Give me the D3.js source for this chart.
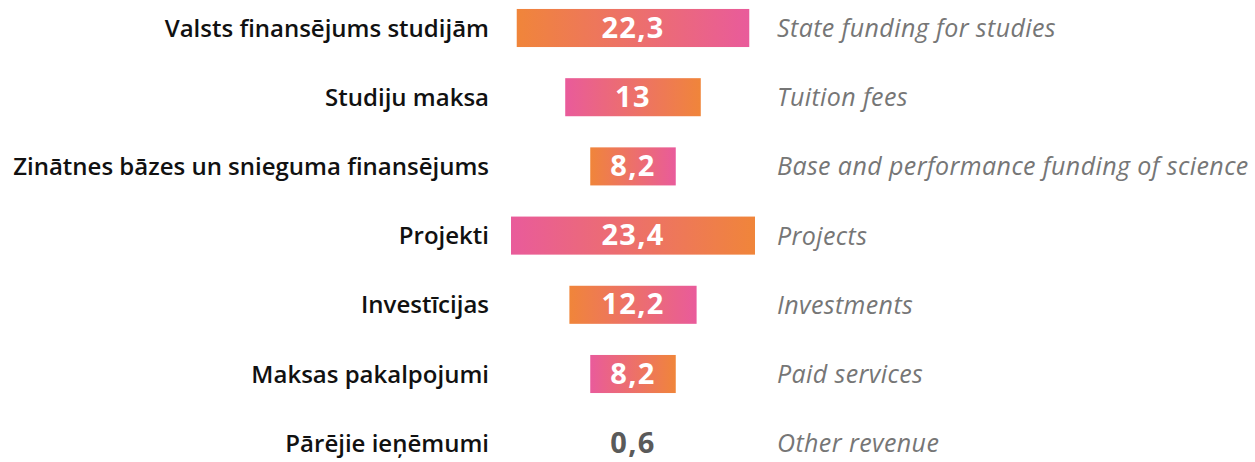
<!DOCTYPE html>
<html>
<head>
<meta charset="utf-8">
<script src="https://cdn.jsdelivr.net/npm/d3@7"></script>
<style>
  body { margin: 0; background: #fff; }
  svg { display: block; }
  .label { font-family: "Open Sans", sans-serif; font-weight: 600; font-size: 24px; fill: #111; }
  .eng { font-family: "Open Sans", sans-serif; font-style: italic; font-weight: 500; font-size: 25px; letter-spacing: 0.4px; fill: #767676; }
  .val { font-family: "Open Sans", sans-serif; font-weight: 700; font-size: 29px; letter-spacing: 1.3px; }
</style>
</head>
<body>
<div id="chart"></div>
<script>
(function(){

  var width = 1255, height = 462;

  // data
  var labelsLv = ["Valsts finansējums studijām", "Studiju maksa", "Zinātnes bāzes un snieguma finansējums",
                  "Projekti", "Investīcijas", "Maksas pakalpojumi", "Pārējie ieņēmumi"];
  var labelsEn = ["State funding for studies", "Tuition fees", "Base and performance funding of science",
                  "Projects", "Investments", "Paid services", "Other revenue"];
  var values = [22.3, 13, 8.2, 23.4, 12.2, 8.2, 0.6];
  var valueText = ["22,3", "13", "8,2", "23,4", "12,2", "8,2", "0,6"];

  var orange = "#f0853a", pink = "#e95b9b";
  var cx = 633;

  var svg = d3.select("#chart").append("svg")
    .attr("width", width)
    .attr("height", height);

  // two gradients: orange->pink and pink->orange
  var defs = svg.append("defs");
  [["gOP", orange, pink], ["gPO", pink, orange]].forEach(function(g){
    var lg = defs.append("linearGradient").attr("id", g[0])
      .attr("x1", "0%").attr("x2", "100%").attr("y1", "0%").attr("y2", "0%");
    lg.append("stop").attr("offset", "0%").attr("stop-color", g[1]);
    lg.append("stop").attr("offset", "100%").attr("stop-color", g[2]);
  });

  var y = d3.scaleBand()
    .domain(d3.range(values.length))
    .range([-6.6, 477.8])
    .paddingInner(0.45)
    .paddingOuter(0.225);

  // bar width centred on cx
  var w = d3.scaleLinear().domain([0, 23.4]).range([0, 244]);

  var rows = svg.selectAll(".row")
    .data(values)
    .enter().append("g")
    .attr("class", "row");

  // tiny values get no bar, only a grey number
  rows.filter(function(d){ return d >= 1; })
    .append("rect")
    .attr("x", function(d){ return cx - w(d) / 2; })
    .attr("y", function(d, i){ return y(i); })
    .attr("width", function(d){ return w(d); })
    .attr("height", y.bandwidth())
    .attr("fill", function(d, i){ return i % 2 === 0 ? "url(#gOP)" : "url(#gPO)"; });

  rows.append("text")
    .attr("class", "val")
    .attr("x", cx)
    .attr("y", function(d, i){ return y(i) + y.bandwidth() / 2; })
    .attr("dy", "0.33em")
    .attr("text-anchor", "middle")
    .attr("fill", function(d){ return d >= 1 ? "#fff" : "#5a5a5a"; })
    .text(function(d, i){ return valueText[i]; });

  rows.append("text")
    .attr("class", "label")
    .attr("x", 489)
    .attr("y", function(d, i){ return y(i) + y.bandwidth() / 2; })
    .attr("dy", "0.36em")
    .attr("text-anchor", "end")
    .text(function(d, i){ return labelsLv[i]; });

  rows.append("text")
    .attr("class", "eng")
    .attr("x", 777)
    .attr("y", function(d, i){ return y(i) + y.bandwidth() / 2; })
    .attr("dy", "0.36em")
    .text(function(d, i){ return labelsEn[i]; });

})()
</script>
</body>
</html>
